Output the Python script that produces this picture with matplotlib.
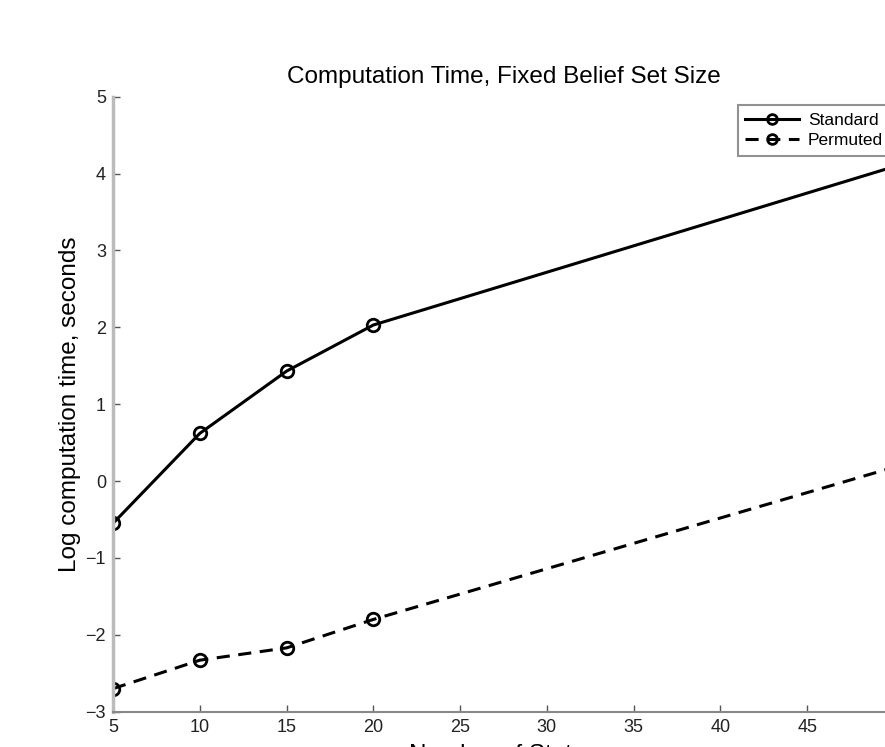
import matplotlib
matplotlib.use("Agg")
import matplotlib.pyplot as plt

plt.rcParams['font.family'] = ['Liberation Sans', 'DejaVu Sans']

states = [5, 10, 15, 20, 50]
standard = [-0.55, 0.62, 1.43, 2.03, 4.09]
permuted = [-2.70, -2.33, -2.17, -1.80, 0.18]
xticks = [5, 10, 15, 20, 25, 30, 35, 40, 45, 50]
yticks = [-3, -2, -1, 0, 1, 2, 3, 4, 5]

fig = plt.figure(figsize=(8.85, 7.47), dpi=100)
ax = fig.add_axes([113/885, 1-711.7/747, (894-113)/885, (711.7-96.7)/747])

ax.plot(states, standard, '-', color='black', lw=2.2, marker='o', ms=9,
        mfc='none', mec='black', mew=2, label='Standard')
ax.plot(states, permuted, '--', color='black', lw=2.2, marker='o', ms=9,
        mfc='none', mec='black', mew=2, dashes=(4.3, 2.8), label='Permuted')

ax.set_xlim(5, 50)
ax.set_ylim(-3, 5)
ax.set_xticks(xticks)
ax.set_yticks(yticks)
ax.set_yticklabels(['\u22123', '\u22122', '\u22121', '0', '1', '2', '3', '4', '5'])
ax.tick_params(direction='in', length=5, width=1, colors='#555555',
               labelcolor='#222222', labelsize=13, pad=5)

for s in ['top', 'right']:
    ax.spines[s].set_visible(False)
ax.spines['left'].set_color('#bbbbbb')
ax.spines['left'].set_linewidth(2.5)
ax.spines['bottom'].set_color('#888888')
ax.spines['bottom'].set_linewidth(1.5)

ax.set_title('Computation Time, Fixed Belief Set Size', fontsize=17.5, pad=10)
ax.set_ylabel('Log computation time, seconds', fontsize=17.5, labelpad=3)
ax.set_xlabel('Number of States', fontsize=17.5, labelpad=6)

leg = ax.legend(loc='upper right', bbox_to_anchor=(0.996, 0.987), fontsize=12.5,
                frameon=True, fancybox=False, handlelength=3.1,
                borderpad=0.45, labelspacing=0.3, handletextpad=0.5,
                borderaxespad=0.0)
for h in leg.legend_handles:
    h.set_markersize(7)
leg.get_frame().set_edgecolor('#777777')
leg.get_frame().set_linewidth(1.5)

fig.savefig('out.png', dpi=100)
